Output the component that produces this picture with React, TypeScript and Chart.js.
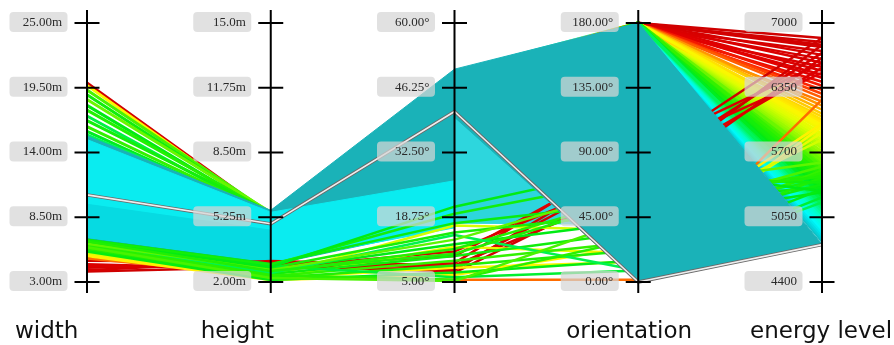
import { useEffect, useRef } from "react";
import { Chart, registerables } from "chart.js";

Chart.register(...registerables);

// ---- axes ----
const dimensions = ["width", "height", "inclination", "orientation", "energy level"];
const axisMin = [3, 2, 5, 0, 4400];
const axisMax = [25, 15, 60, 180, 7000];
const widthTicks = ["3.00m", "8.50m", "14.00m", "19.50m", "25.00m"];
const heightTicks = ["2.00m", "5.25m", "8.50m", "11.75m", "15.0m"];
const inclinationTicks = ["5.00°", "18.75°", "32.50°", "46.25°", "60.00°"];
const orientationTicks = ["0.00°", "45.00°", "90.00°", "135.00°", "180.00°"];
const energyTicks = ["4400", "5050", "5700", "6350", "7000"];
const tickLabels = [widthTicks, heightTicks, inclinationTicks, orientationTicks, energyTicks];

// ---- records: [width, height, inclination, orientation, energy] ----
const denseFan = [
  [14.8, 5.4, 49.5, 180, 6010], [12.1, 4.6, 44.0, 180, 5985], [9.3, 3.9, 41.5, 180, 5950],
  [13.6, 5.1, 47.2, 180, 5925], [8.2, 3.5, 40.1, 180, 5890], [11.4, 4.4, 45.8, 180, 5860],
  [14.2, 5.3, 48.6, 180, 5830], [10.5, 4.1, 42.7, 180, 5800], [7.6, 3.3, 40.6, 180, 5770],
  [12.8, 4.9, 46.4, 180, 5745], [9.9, 4.0, 43.3, 180, 5710], [13.3, 5.0, 49.0, 180, 5680],
  [8.7, 3.7, 40.8, 180, 5650], [11.0, 4.3, 44.9, 180, 5620], [14.5, 5.4, 47.7, 180, 5590],
  [10.2, 4.2, 41.9, 180, 5560], [7.9, 3.4, 40.3, 180, 5530], [12.4, 4.7, 45.3, 180, 5500],
  [9.6, 3.9, 42.2, 180, 5470], [13.9, 5.2, 48.1, 180, 5440], [8.5, 3.6, 40.5, 180, 5410],
  [11.7, 4.5, 46.0, 180, 5380], [10.8, 4.2, 43.6, 180, 5350], [14.0, 5.3, 49.2, 180, 5320],
  [7.3, 3.2, 40.8, 180, 5290], [12.6, 4.8, 44.4, 180, 5260], [9.1, 3.8, 41.1, 180, 5230],
  [13.1, 5.0, 47.0, 180, 5200], [8.0, 3.5, 40.3, 180, 5170], [11.2, 4.4, 45.5, 180, 5140],
  [10.0, 4.1, 42.9, 180, 5110], [14.6, 5.4, 48.4, 180, 5080], [7.1, 3.1, 40.5, 180, 5050],
  [12.3, 4.7, 46.7, 180, 5020], [9.5, 3.9, 43.0, 180, 4990], [13.5, 5.1, 49.7, 180, 4960],
  [8.9, 3.7, 41.4, 180, 4930], [11.6, 4.5, 44.6, 180, 4900], [10.4, 4.2, 42.4, 180, 4870],
  [12.9, 4.9, 47.5, 180, 4840], [9.7, 4.0, 40.9, 180, 4810],
];

const redFan = [
  [11.3, 4.4, 45.0, 180, 6850], [9.8, 4.0, 42.5, 179, 6810], [13.0, 5.0, 47.9, 180, 6760],
  [8.4, 3.6, 40.6, 177, 6720], [12.0, 4.6, 46.2, 180, 6680], [10.6, 4.2, 43.8, 178, 6640],
  [14.1, 5.3, 48.8, 180, 6600], [7.7, 3.3, 40.9, 176, 6560], [11.8, 4.5, 44.1, 180, 6520],
  [9.2, 3.8, 41.7, 179, 6480], [13.7, 5.2, 47.3, 180, 6450], [10.1, 4.1, 42.0, 177, 6410],
  [12.7, 4.8, 45.9, 180, 6370], [8.8, 3.7, 40.2, 178, 6330], [14.3, 5.3, 49.3, 180, 6290],
  [11.5, 4.4, 43.5, 180, 6250], [9.4, 3.9, 41.3, 176, 6210], [13.2, 5.0, 46.8, 180, 6170],
  [10.7, 4.3, 44.7, 179, 6130], [12.2, 4.7, 48.0, 180, 6090], [8.1, 3.5, 40.7, 177, 6060],
  [11.1, 4.3, 42.8, 180, 6030],
];

const upperWide = [
  [19.9, 5.35, 44.0, 180, 6780], [19.7, 5.3, 46.5, 180, 5960], [19.3, 5.45, 42.0, 180, 5560],
  [18.9, 5.4, 48.2, 180, 5380], [18.5, 5.5, 43.1, 180, 5620], [18.0, 5.35, 45.6, 180, 5300],
  [17.6, 5.45, 41.2, 180, 5480], [17.1, 5.3, 47.4, 180, 5220], [16.7, 5.5, 44.8, 180, 5400],
  [16.2, 5.4, 40.4, 180, 5520], [15.8, 5.35, 46.1, 180, 5280], [15.5, 5.45, 42.9, 180, 5180],
];

const lowRed = [
  [3.9, 2.75, 7.5, 85, 6850], [4.2, 2.9, 8.0, 78, 6700], [4.5, 2.65, 9.0, 92, 6600],
  [4.8, 3.0, 7.0, 70, 6780], [5.1, 2.8, 10.5, 88, 6500], [4.0, 3.05, 8.5, 65, 6650],
  [4.35, 2.7, 11.5, 75, 6550],
];
const lowOrange = [[5.0, 2.3, 5.5, 1.5, 6230]];
const lowYellow = [
  [5.4, 2.2, 8.0, 14, 5960], [5.3, 2.15, 12.5, 20, 5900], [5.5, 2.3, 17.0, 36, 5830],
  [5.2, 2.1, 6.5, 25, 5990],
];
const lowGreen = [
  [6.6, 2.9, 17.5, 55, 5350], [6.4, 2.7, 15.5, 48, 5420], [6.2, 2.6, 13.0, 42, 5300],
  [6.0, 2.5, 12.0, 60, 5480], [5.9, 2.4, 10.5, 35, 5380], [5.8, 2.3, 9.5, 28, 5520],
  [5.7, 2.2, 8.5, 22, 5450], [5.6, 2.1, 7.0, 15, 5330], [6.5, 2.8, 6.0, 8, 5250],
  [6.3, 2.45, 15.0, 8, 5200], [6.1, 2.35, 5.5, 30, 5500], [5.95, 2.2, 5.2, 45, 5560],
  [6.55, 2.85, 19.5, 72, 5400], [6.35, 2.75, 21.0, 80, 5310], [6.25, 2.6, 14.0, 66, 5600],
  [6.45, 2.55, 11.0, 58, 5460],
];

const highlighted = [10.4, 4.92, 41.2, 0, 4775];

// density envelopes of the low-energy mass (start axis given separately)
const tealLeftTop = [15.4, 5.6, 50.2];
const tealLeftBottom = [6.4, 2.85, 17.0];
const cyanLeftTop = [15.1, 5.5, 26.5];
const cyanLeftBottom = [6.8, 3.0, 16.5];
const cyanDeepTop = [9.6, 4.6];
const cyanDeepBottom = [6.8, 3.0];
const cyanWedgeTop = [40.0, 178];
const cyanWedgeBottom = [17.5, 40];
const tealRightTop = [50.2, 180, 4780];
const tealRightBottom = [40.0, 0, 4780];

// colour map on energy
const energyStops = [4780, 4850, 4930, 5050, 5180, 5300, 5500, 5700, 5850, 5980, 6100, 6200, 6320, 6450, 7000];
const energyColors = [
  [26, 178, 184], [0, 215, 222], [0, 250, 250], [0, 255, 200], [0, 245, 90], [0, 235, 20],
  [40, 240, 0], [150, 250, 0], [220, 255, 0], [255, 245, 0], [255, 200, 0], [255, 130, 0],
  [255, 40, 0], [225, 0, 0], [200, 0, 0],
];
const TEAL = "rgb(26,178,184)";
const CYAN = "rgb(10,236,240)";
const CYAN_DEEP = "rgb(6,218,226)";
const CYAN_SOFT = "rgb(45,214,221)";

function energyColor(e: number): string {
  if (e <= energyStops[0]) return `rgb(${energyColors[0].join(",")})`;
  for (let i = 1; i < energyStops.length; i++) {
    if (e <= energyStops[i]) {
      const t = (e - energyStops[i - 1]) / (energyStops[i] - energyStops[i - 1]);
      const a = energyColors[i - 1];
      const b = energyColors[i];
      const c = a.map((v, k) => Math.round(v + (b[k] - v) * t));
      return `rgb(${c.join(",")})`;
    }
  }
  return `rgb(${energyColors[energyColors.length - 1].join(",")})`;
}

function pts(values: number[], start: number) {
  return values.map((v, k) => {
    const a = start + k;
    return { x: a, y: (v - axisMin[a]) / (axisMax[a] - axisMin[a]) };
  });
}

function buildDatasets() {
  const layers: any[] = [];
  const addLine = (row: number[], color: string, width: number) =>
    layers.push({ data: pts(row, 0), borderColor: color, borderWidth: width, fill: false });
  const addBand = (top: number[], bottom: number[], start: number, color: string) => {
    layers.push({ data: pts(top, start), borderColor: color, backgroundColor: color, borderWidth: 1, fill: "+1" });
    layers.push({ data: pts(bottom, start), borderColor: color, borderWidth: 1, fill: false });
  };

  // low energies painted first so the warmer colours stay visible near the apex
  [...denseFan].reverse().forEach((r) => addLine(r, energyColor(r[4]), 3));
  redFan.forEach((r) => addLine(r, energyColor(r[4]), 2.5));
  upperWide.forEach((r) => addLine(r, energyColor(r[4]), 3));
  addBand(tealLeftTop, tealLeftBottom, 0, TEAL);
  addBand(cyanLeftTop, cyanLeftBottom, 0, CYAN);
  addBand(cyanDeepTop, cyanDeepBottom, 0, CYAN_DEEP);
  addBand(cyanWedgeTop, cyanWedgeBottom, 2, CYAN_SOFT);
  lowRed.forEach((r) => addLine(r, energyColor(r[4]), 2.5));
  lowOrange.forEach((r) => addLine(r, energyColor(r[4]), 2.5));
  lowYellow.forEach((r) => addLine(r, energyColor(r[4]), 2.5));
  lowGreen.forEach((r) => addLine(r, energyColor(r[4]), 2.5));
  addBand(tealRightTop, tealRightBottom, 2, TEAL);
  addLine(highlighted, "#6a6a6a", 3.4);
  addLine(highlighted, "#eeeeee", 1.6);

  // explicit paint order: first element painted first (at the back)
  return layers.map((d, i) => ({
    ...d,
    order: layers.length - i,
    pointRadius: 0,
    pointHoverRadius: 0,
    tension: 0,
    clip: false,
    borderJoinStyle: "round",
  }));
}

const labelOffsets = [-72, -70, -74, -72, -72];

const axesPlugin = {
  id: "parallelAxes",
  afterDatasetsDraw(chart: any) {
    const ctx: CanvasRenderingContext2D = chart.ctx;
    const xs = chart.scales.x;
    const ys = chart.scales.y;
    ctx.save();
    for (let a = 0; a < dimensions.length; a++) {
      const x = xs.getPixelForValue(a);
      const top = ys.getPixelForValue(1);
      const bottom = ys.getPixelForValue(0);
      tickLabels[a].forEach((lab, t) => {
        const y = ys.getPixelForValue(t / 4);
        ctx.fillStyle = "rgba(214,214,214,0.72)";
        ctx.beginPath();
        (ctx as any).roundRect(x - 77.5, y - 11, 58, 20, 4);
        ctx.fill();
        ctx.fillStyle = "#2a2a2a";
        ctx.font = '13px "Liberation Serif"';
        ctx.textAlign = "right";
        ctx.textBaseline = "middle";
        ctx.fillText(lab, x - 25, y - 0.5);
      });
      ctx.strokeStyle = "#000";
      ctx.lineWidth = 2;
      ctx.beginPath();
      ctx.moveTo(x, top - 13);
      ctx.lineTo(x, bottom + 11);
      ctx.stroke();
      for (let t = 0; t < 5; t++) {
        const y = ys.getPixelForValue(t / 4);
        ctx.beginPath();
        ctx.moveTo(x - 12.5, y);
        ctx.lineTo(x + 12.5, y);
        ctx.stroke();
      }
      ctx.fillStyle = "#111";
      ctx.font = '23px "DejaVu Sans"';
      ctx.textAlign = "left";
      ctx.textBaseline = "alphabetic";
      ctx.fillText(dimensions[a], x + labelOffsets[a], 338);
    }
    ctx.restore();
  },
};

export default function App() {
  const ref = useRef<HTMLCanvasElement | null>(null);
  useEffect(() => {
    if (!ref.current) return;
    const chart = new Chart(ref.current, {
      type: "line",
      data: { datasets: buildDatasets() as any },
      options: {
        animation: false,
        responsive: false,
        devicePixelRatio: 1,
        events: [],
        layout: { padding: { left: 87, right: 72, top: 23, bottom: 63 } },
        scales: {
          x: { type: "linear", min: 0, max: 4, display: false },
          y: { type: "linear", min: 0, max: 1, display: false },
        },
        plugins: { legend: { display: false }, tooltip: { enabled: false } },
      } as any,
      plugins: [axesPlugin],
    });
    return () => chart.destroy();
  }, []);
  return (
    <div style={{ position: "absolute", left: 0, top: 0, width: 894, height: 345, background: "#fff" }}>
      <canvas ref={ref} width={894} height={345} />
    </div>
  );
}
